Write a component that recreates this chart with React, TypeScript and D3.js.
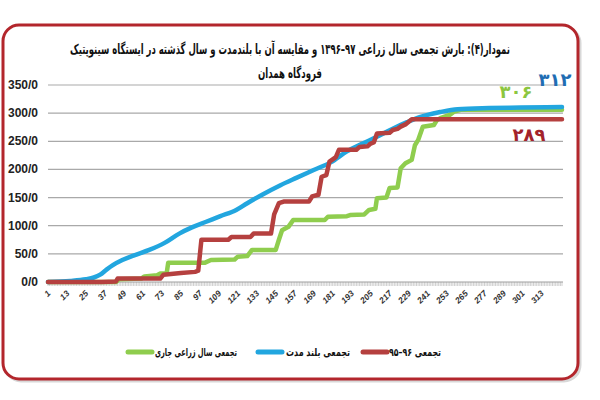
import React from 'react';
import * as d3 from 'd3';

// cumulative precipitation, [day of water year, mm]
const currentYear: [number, number][] = [
    [1, 0], [44, 0], [46, 5], [60, 6], [62, 10], [70, 12], [72, 15], [76, 15], [77, 34],
    [100, 34], [104, 39], [119, 40], [121, 45], [127, 46], [130, 57], [145, 57],
    [147, 75], [149, 92], [153, 98], [156, 110], [176, 110], [178, 116], [190, 117],
    [192, 119], [201, 120], [204, 128], [208, 130], [209, 149], [215, 150], [217, 167],
    [222, 168], [224, 202], [227, 211], [231, 217], [233, 243], [235, 252], [238, 276],
    [245, 279], [247, 288], [249, 291], [255, 297], [258, 303], [262, 306], [326, 306],
];

const longTerm: [number, number][] = [
    [1, 0], [15, 2], [25, 5], [30, 8], [34, 13], [38, 22], [42, 30], [48, 39], [55, 47],
    [65, 57], [75, 70], [84, 86], [92, 97], [101, 107], [110, 117], [120, 128],
    [127, 140], [137, 156], [148, 172], [158, 185], [169, 199], [180, 213], [190, 232],
    [200, 246], [209, 258], [218, 271], [228, 284], [236, 293], [241, 297], [249, 302],
    [260, 307], [280, 309], [300, 310], [326, 311],
];

const lastYear: [number, number][] = [
    [1, 0], [35, 0], [44, 1], [45, 6], [72, 6], [74, 13], [85, 16], [94, 18], [96, 20],
    [98, 75], [115, 75], [117, 80], [129, 80], [131, 86], [142, 86], [144, 120],
    [147, 140], [150, 143], [166, 143], [168, 152], [172, 155], [174, 187], [177, 190],
    [179, 214], [183, 222], [185, 235], [196, 235], [198, 240], [203, 241], [205, 246],
    [207, 248], [209, 264], [217, 265], [219, 270], [222, 272], [224, 276], [227, 280],
    [231, 289], [326, 289],
];

const yTicks = [0, 50, 100, 150, 200, 250, 300, 350];
const xLabels = [1, 13, 25, 37, 49, 61, 73, 85, 97, 109, 121, 133, 145, 157, 169, 181,
    193, 205, 217, 229, 241, 253, 265, 277, 289, 301, 313];
const dayCount = 326;

const titleLine1 = 'نمودار(۴): بارش تجمعی سال زراعی ۹۷–۱۳۹۶ و مقایسه آن با بلندمدت و سال گذشته در ایستگاه سینوپتیک';
const titleLine2 = 'فرودگاه همدان';
const legendNames = ['تجمعی سال زراعی جاری', 'تجمعی بلند مدت', 'تجمعی ۹۶–۹۵'];
const endLabels = ['۳۱۲', '۳۰۶', '۲۸۹'];

const GREEN = '#8fcd4e';
const BLUE = '#22a6df';
const RED = '#b5403f';
const persian = '"DejaVu Sans", sans-serif';

function App() {
    const width = 600;
    const height = 400;
    const margin = { top: 85, right: 38, bottom: 118, left: 48 };

    const x = d3.scaleLinear()
        .domain([1, dayCount])
        .range([margin.left, width - margin.right]);

    const y = d3.scaleLinear()
        .domain([0, 350])
        .range([height - margin.bottom, margin.top]);

    const line = d3.line<[number, number]>()
        .x(d => x(d[0]))
        .y(d => y(d[1]));
    const smooth = d3.line<[number, number]>()
        .x(d => x(d[0]))
        .y(d => y(d[1]))
        .curve(d3.curveMonotoneX);

    const days = d3.range(1, dayCount + 1);
    // legend boxes: line start, text left edge, text width
    const legend = [
        { name: legendNames[0], color: GREEN, x0: 128, tx: 155, tw: 82 },
        { name: legendNames[1], color: BLUE, x0: 258, tx: 286, tw: 64 },
        { name: legendNames[2], color: RED, x0: 363, tx: 389, tw: 52 },
    ];

    return (
        <svg width={width} height={height} style={{ position: 'absolute', left: 0, top: 0, background: '#fff' }}>
            <rect x={5} y={27} width={575} height={354} rx={16} fill="none" stroke="#d8d8d8" strokeWidth={3} />
            <rect x={3} y={25} width={575} height={354} rx={16} fill="#fff" stroke="#b3262c" strokeWidth={3} />

            <text x={290} y={54} textAnchor="middle" direction="rtl" fontFamily={persian}
                fontWeight="bold" fontSize={14} fill="#111" textLength={440} lengthAdjust="spacingAndGlyphs">
                {titleLine1}
            </text>
            <text x={290} y={78} textAnchor="middle" direction="rtl" fontFamily={persian}
                fontWeight="bold" fontSize={14} fill="#111" textLength={64} lengthAdjust="spacingAndGlyphs">
                {titleLine2}
            </text>

            <g className="grid">
                {yTicks.filter(t => t > 0).map(t => (
                    <line key={t} x1={x(1)} x2={x(dayCount) + 1} y1={y(t)} y2={y(t)}
                        stroke="#a9a9a9" strokeWidth={1.2} />
                ))}
            </g>

            <g className="y-axis" fontFamily='"Liberation Sans", Arial, sans-serif' fontWeight="bold"
                fontSize={12} fill="#222" textAnchor="end">
                {yTicks.map(t => (
                    <text key={t} x={38} y={y(t) + 4}>{t}/0</text>
                ))}
            </g>

            <g className="x-axis">
                {days.map(d => (
                    <line key={d} x1={x(d)} x2={x(d)} y1={y(0)} y2={y(0) + 4} stroke="#b0b0b0" strokeWidth={0.6} />
                ))}
                <line x1={x(1)} x2={x(dayCount) + 1} y1={y(0)} y2={y(0)} stroke="#a0a0a0" strokeWidth={1.2} />
                {xLabels.map(d => (
                    <text key={d} transform={`translate(${x(d) + 3},${y(0) + 12}) rotate(-45)`}
                        textAnchor="end" fontFamily='"Liberation Sans", Arial, sans-serif'
                        fontWeight="bold" fontStyle="italic" fontSize={8.5} fill="#333">{d}</text>
                ))}
            </g>

            <g className="series" fill="none" strokeWidth={4.5} strokeLinejoin="round" strokeLinecap="round">
                <path d={line(currentYear) ?? ''} stroke={GREEN} />
                <path d={smooth(longTerm) ?? ''} stroke={BLUE} />
                <path d={line(lastYear) ?? ''} stroke={RED} />
            </g>

            <g className="end-labels" fontFamily={persian} fontWeight="bold" fontSize={18} textAnchor="middle">
                <text x={555} y={86} fill="#1f6db3" letterSpacing={4}>{endLabels[0]}</text>
                <text x={516} y={98} fill="#8cc63f" letterSpacing={5}>{endLabels[1]}</text>
                <text x={529} y={141} fill="#a3232b" letterSpacing={3}>{endLabels[2]}</text>
            </g>

            <g className="legend">
                {legend.map(l => (
                    <g key={l.name}>
                        <line x1={l.x0} x2={l.x0 + 24} y1={352} y2={352} stroke={l.color}
                            strokeWidth={5} strokeLinecap="round" />
                        <text x={l.tx + l.tw / 2} y={356} textAnchor="middle" direction="rtl" fontFamily={persian}
                            fontWeight="bold" fontSize={11} fill="#111" textLength={l.tw}
                            lengthAdjust="spacingAndGlyphs">{l.name}</text>
                    </g>
                ))}
            </g>
        </svg>
    );
}

export default App;
